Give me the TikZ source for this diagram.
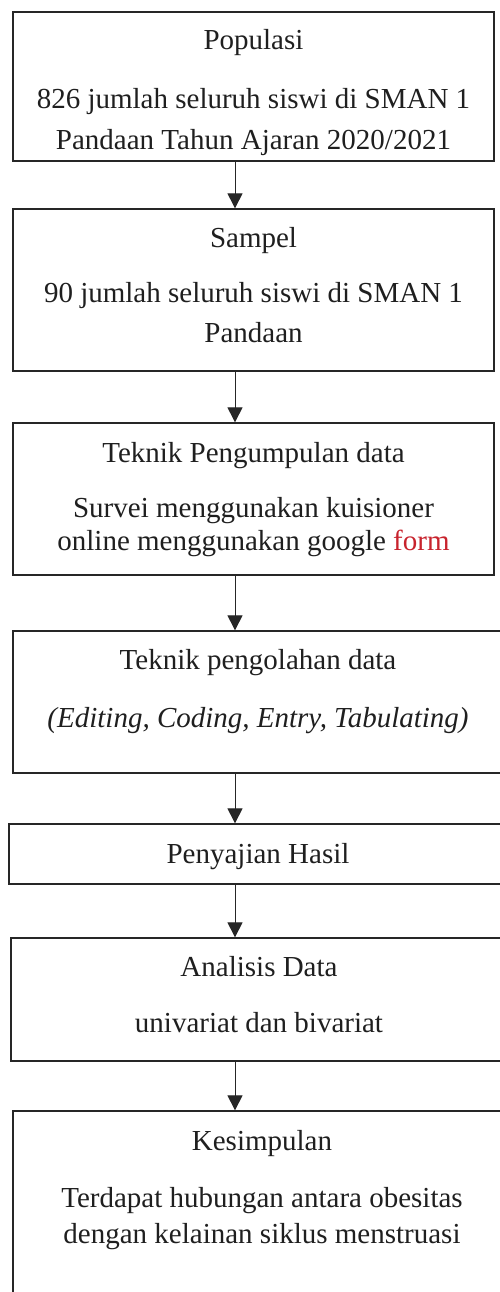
\documentclass[tikz,border=0pt]{standalone}
\usepackage{fontspec}
\setmainfont{Liberation Serif}
\usetikzlibrary{arrows.meta}
\definecolor{formred}{RGB}{200,35,45}
\begin{document}
\begin{tikzpicture}[x=1pt,y=-1pt,
  box/.style={draw=black!85,line width=1.3pt,rectangle,inner sep=0pt},
  txt/.style={anchor=base,inner sep=0pt,font=\fontsize{29}{41}\selectfont,text=black!88},
  arr/.style={draw=black!85,line width=1pt,-{Triangle[width=15pt,length=15pt]}}]
\useasboundingbox (0,0) rectangle (500,1292);
\fill[white] (0,0) rectangle (500,1292);
% boxes
\node[box,minimum width=481pt,minimum height=149pt] (b1) at (253.5,86.5) {};
\node[box,minimum width=481pt,minimum height=162pt] (b2) at (253.5,290) {};
\node[box,minimum width=481pt,minimum height=152pt] (b3) at (253.5,499) {};
\node[box,minimum width=490pt,minimum height=142pt] (b4) at (258,702) {};
\node[box,minimum width=498pt,minimum height=60pt] (b5) at (258,854) {};
\node[box,minimum width=496pt,minimum height=123pt] (b6) at (259,999.5) {};
\node[box,minimum width=498pt,minimum height=240pt] (b7) at (262,1231) {};
% texts
\node[txt] (t1a) at (253.5,50) {Populasi};
\node[txt] (t1b) at (253.5,109) {826 jumlah seluruh siswi di SMAN 1};
\node[txt] (t1c) at (253.5,150) {Pandaan Tahun Ajaran 2020/2021};
\node[txt] (t2a) at (253.5,247) {Sampel};
\node[txt] (t2b) at (253.5,302) {90 jumlah seluruh siswi di SMAN 1};
\node[txt] (t2c) at (253.5,342) {Pandaan};
\node[txt] (t3a) at (253.5,462) {Teknik Pengumpulan data};
\node[txt] (t3b) at (253.5,517) {Survei menggunakan kuisioner};
\node[txt] (t3c) at (253.5,550) {online menggunakan google \textcolor{formred}{form}};
\node[txt] (t4a) at (258,669) {Teknik pengolahan data};
\node[txt] (t4b) at (258,727) {\textit{(Editing, Coding, Entry, Tabulating)}};
\node[txt] (t5a) at (258,863) {Penyajian Hasil};
\node[txt] (t6a) at (259,976) {Analisis Data};
\node[txt] (t6b) at (259,1032) {univariat dan bivariat};
\node[txt] (t7a) at (262,1150) {Kesimpulan};
\node[txt] (t7b) at (262,1207) {Terdapat hubungan antara obesitas};
\node[txt] (t7c) at (262,1243) {dengan kelainan siklus menstruasi};
% arrows
\coordinate (ax) at (235,0);
\draw[arr] (b1.south -| ax) -- (b2.north -| ax);
\draw[arr] (b2.south -| ax) -- (b3.north -| ax);
\draw[arr] (b3.south -| ax) -- (b4.north -| ax);
\draw[arr] (b4.south -| ax) -- (b5.north -| ax);
\draw[arr] (b5.south -| ax) -- (b6.north -| ax);
\draw[arr] (b6.south -| ax) -- (b7.north -| ax);
\end{tikzpicture}
\end{document}
